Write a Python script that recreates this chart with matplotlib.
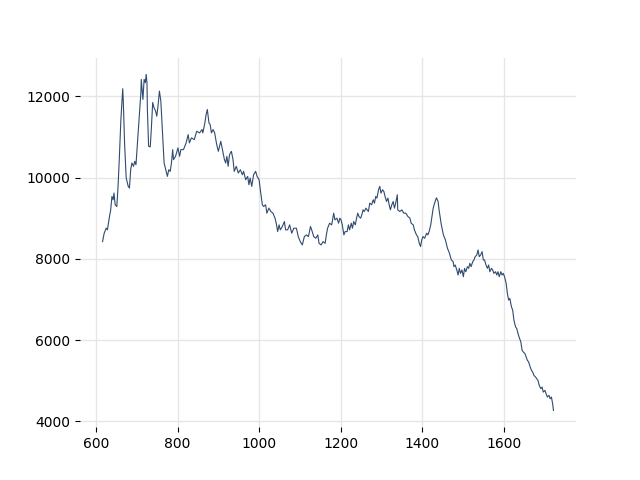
import matplotlib
matplotlib.use("Agg")
import matplotlib.pyplot as plt

wavelength = [
    616, 620, 625, 628, 633, 636, 639, 642, 644, 647, 651, 654, 657, 661, 664,
    665.5, 667, 670, 674, 679, 682, 685, 688, 692, 695, 698, 701, 706, 710, 711,
    713, 715, 718, 721, 723, 725, 726, 729, 733, 736, 739, 742, 746, 749, 752,
    755.5, 759, 762, 767, 772, 775, 778.5, 782, 785, 788, 790, 795, 801, 805,
    808, 814.5, 821, 826, 829, 834, 841, 847, 854, 860, 862, 867, 870, 873,
    877, 880, 883, 887, 891, 896, 900, 903, 906, 910, 915, 918, 921, 924,
    927.5, 932, 936, 939, 944, 949, 954, 959, 962, 967, 972, 975, 978, 982,
    986.5, 991.5, 995, 1000, 1003, 1008, 1011, 1016, 1019, 1024, 1029, 1034,
    1039, 1042, 1045.5, 1049, 1052, 1057, 1062, 1065, 1070, 1075, 1080, 1085,
    1091.5, 1096, 1101, 1106, 1111, 1116, 1121, 1126, 1129, 1134, 1139, 1144,
    1147, 1152, 1157, 1162, 1165, 1168, 1173, 1178, 1183, 1186, 1191, 1195,
    1198, 1201, 1204, 1208, 1211, 1216, 1219, 1222, 1226, 1229, 1232, 1236,
    1239, 1242, 1245, 1249, 1252, 1255, 1258, 1262, 1265, 1268, 1271.5, 1276,
    1280, 1283, 1286, 1289, 1293, 1296, 1299, 1303, 1306, 1309, 1312.5, 1316,
    1319, 1322, 1325.5, 1329, 1332, 1335, 1339, 1340, 1345, 1350, 1355, 1360,
    1365, 1370, 1373, 1378, 1381, 1386, 1389, 1393, 1396, 1399, 1402, 1406,
    1411, 1414, 1417, 1421, 1424, 1427, 1430.5, 1435, 1439, 1442, 1447, 1452,
    1457, 1462, 1467, 1471.5, 1476, 1478, 1481, 1485, 1488, 1491, 1494,
    1497.5, 1501, 1504, 1507, 1511, 1514, 1517, 1520, 1524, 1527, 1530, 1534,
    1537, 1540, 1543.5, 1547, 1550, 1553, 1556.5, 1560, 1563, 1566, 1570,
    1573, 1576, 1580, 1583, 1586, 1589, 1593, 1596, 1599, 1602, 1606, 1609,
    1612, 1615, 1619, 1622, 1625, 1629, 1632, 1635, 1639, 1642, 1645, 1648,
    1652, 1655, 1658, 1661, 1665, 1668, 1671, 1674, 1678, 1681, 1684, 1687,
    1691, 1694, 1697, 1701, 1704, 1707, 1711, 1714, 1717, 1720, 1722,
]

intensity = [
    8427, 8634, 8757, 8716, 9044, 9210, 9538, 9457, 9622, 9333, 9291, 9786,
    10440, 11432, 11925, 12190, 11851, 10857, 9993, 9786, 9745, 10197, 10362,
    10280, 10403, 10320, 10773, 11514, 12091, 12420, 12173, 11925, 12420,
    12338, 12543, 12338, 11679, 10773, 10757, 11267, 11851, 11728, 11646,
    11514, 11760, 12132, 11884, 11308, 10362, 10156, 10033, 10197, 10156,
    10362, 10691, 10444, 10527, 10733, 10527, 10691, 10691, 10857, 11061,
    10857, 10980, 10938, 11144, 11103, 11185, 11103, 11350, 11555, 11679,
    11350, 11308, 11103, 11185, 11103, 10815, 10650, 10773, 10897, 10691,
    10444, 10362, 10527, 10280, 10568, 10650, 10444, 10156, 10280, 10115,
    10197, 10074, 10156, 9950, 10033, 9827, 9992, 9786, 10074, 10156, 10033,
    9950, 9703, 9333, 9291, 9333, 9127, 9251, 9168, 9127, 9004, 8880, 8674,
    8839, 8716, 8798, 8921, 8716, 8716, 8839, 8634, 8757, 8757, 8551, 8427,
    8345, 8551, 8592, 8551, 8798, 8716, 8551, 8510, 8592, 8386, 8345, 8427,
    8386, 8592, 8757, 8880, 8839, 9127, 8962, 9004, 8880, 9004, 8962, 8839,
    8592, 8674, 8674, 8839, 8716, 8880, 8757, 8921, 8839, 9004, 9127, 9044,
    9004, 9086, 9209, 9168, 9251, 9209, 9168, 9374, 9333, 9457, 9374, 9538,
    9498, 9703, 9786, 9621, 9703, 9662, 9538, 9415, 9498, 9333, 9209, 9333,
    9415, 9251, 9374, 9580, 9209, 9168, 9209, 9127, 9127, 9044, 9004, 8880,
    8839, 8716, 8592, 8551, 8386, 8304, 8469, 8551, 8510, 8634, 8592, 8674,
    8839, 9044, 9251, 9374, 9505, 9415, 9168, 8839, 8592, 8469, 8263, 8139,
    7975, 7933, 7810, 7851, 7728, 7604, 7769, 7645, 7728, 7563, 7769, 7686,
    7810, 7769, 7892, 7810, 7933, 7975, 8057, 8098, 8222, 8057, 8098, 8180,
    7975, 7975, 7851, 7769, 7851, 7686, 7769, 7728, 7645, 7686, 7604, 7686,
    7563, 7686, 7604, 7645, 7563, 7398, 7151, 6987, 7028, 6822, 6740, 6494,
    6329, 6287, 6164, 6040, 5957, 5753, 5711, 5671, 5588, 5506, 5465, 5341,
    5259, 5217, 5136, 5094, 5053, 5012, 4889, 4807, 4847, 4723, 4765, 4683,
    4600, 4642, 4560, 4600, 4436, 4272,
]

fig, ax = plt.subplots(figsize=(6.4, 4.8), dpi=100)
ax.plot(wavelength, intensity, color="#2f4b6e", linewidth=0.8)

ax.set_xticks([600, 800, 1000, 1200, 1400, 1600])
ax.set_yticks([4000, 6000, 8000, 10000, 12000])
ax.grid(True, color="#e6e6e6", linewidth=1)
ax.set_axisbelow(True)
for s in ax.spines.values():
    s.set_visible(False)

fig.savefig("out.png", dpi=100)
